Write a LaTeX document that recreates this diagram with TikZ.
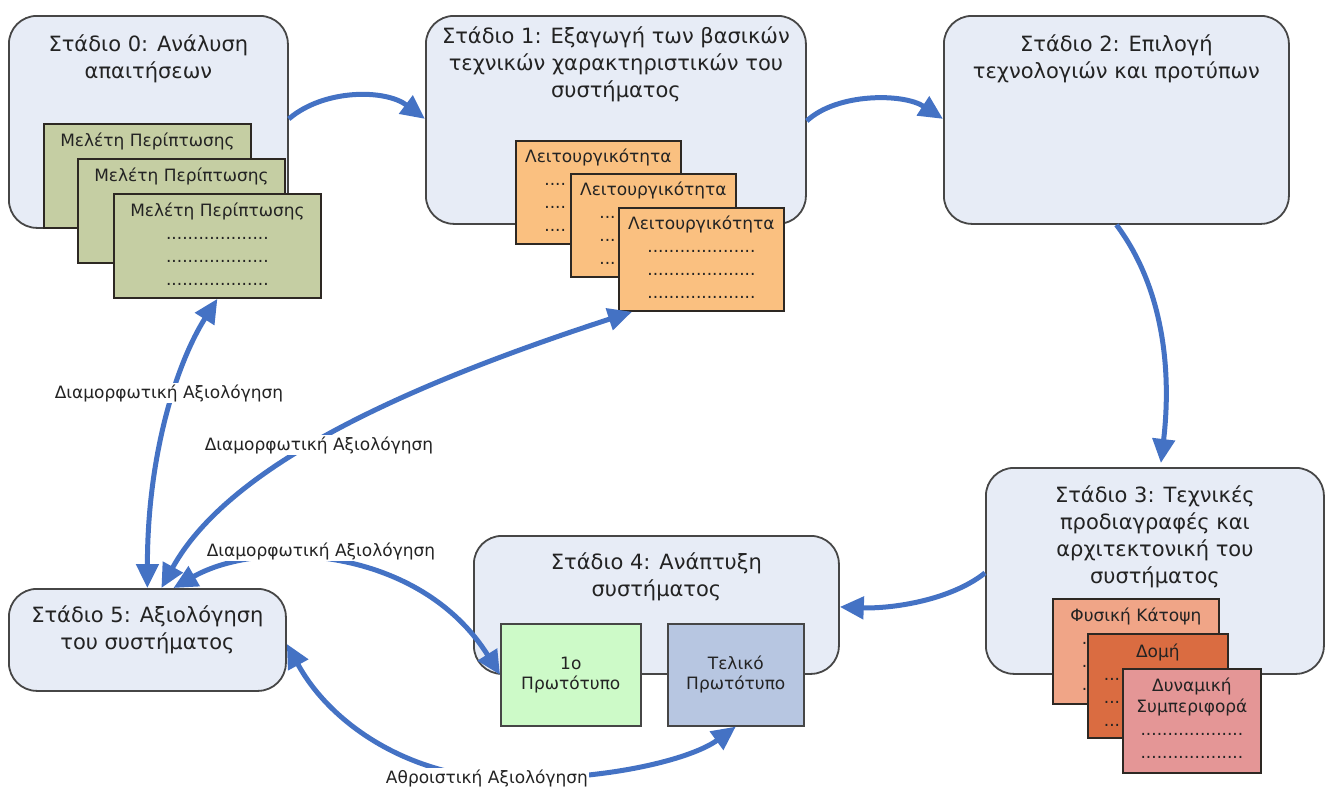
\documentclass[tikz,border=0pt]{standalone}
\usepackage{fontspec}
\setmainfont{DejaVu Sans}
\usetikzlibrary{arrows.meta}

\definecolor{boxfill}{RGB}{231,236,246}
\definecolor{boxline}{RGB}{70,70,70}
\definecolor{cardline}{RGB}{45,40,35}
\definecolor{olivecard}{RGB}{197,206,163}
\definecolor{orangecard}{RGB}{250,192,128}
\definecolor{salmoncard}{RGB}{240,165,135}
\definecolor{rustcard}{RGB}{218,108,65}
\definecolor{pinkcard}{RGB}{228,150,150}
\definecolor{greenproto}{RGB}{205,250,200}
\definecolor{blueproto}{RGB}{183,198,225}
\definecolor{flowblue}{RGB}{68,114,196}
\definecolor{inktext}{RGB}{35,35,35}

% a row of dots, left aligned in a fixed-width slot
\newcommand\rowbox[2]{\makebox[#1][l]{#2}}

\begin{document}
\begin{tikzpicture}[x=1pt,y=-1pt,
  stagebox/.style={draw=boxline, line width=1.8pt, fill=boxfill,
    rounded corners=28pt, inner sep=0pt, anchor=north west},
  stagetitle/.style={align=center, inner sep=0pt, anchor=north, text=inktext,
    font=\fontsize{21}{27}\selectfont},
  card/.style={draw=cardline, line width=1.8pt, inner sep=0pt, anchor=north west},
  cardtext/.style={align=center, inner sep=0pt, anchor=north, text=inktext,
    font=\fontsize{17}{23}\selectfont},
  proto/.style={draw=boxline, line width=1.6pt, inner sep=0pt, anchor=north west,
    align=center, text=inktext, font=\fontsize{17}{20}\selectfont},
  tip/.style={Triangle[length=24pt,width=22pt]},
  flow/.style={draw=flowblue, line width=5pt, -{Triangle[length=24pt,width=22pt]}},
  flowboth/.style={draw=flowblue, line width=5pt,
    {Triangle[length=24pt,width=22pt]}-{Triangle[length=24pt,width=22pt]}},
  evlabel/.style={fill=white, inner sep=1pt, text=inktext,
    font=\fontsize{17}{21}\selectfont}
]
\useasboundingbox (0,0) rectangle (1326,787);

% ---- Stage 0 ----
\node[stagebox, minimum width=279pt, minimum height=212pt] (s0) at (8,15) {};
\node[stagetitle] (s0t) at ([yshift=-19.5pt]s0.north) {Στάδιο 0: Ανάλυση\\απαιτήσεων};
\node[card, fill=olivecard, minimum width=207pt, minimum height=104pt] (c01) at (43,123) {};
\node[cardtext] (c01t) at ([yshift=-9.5pt]c01.north) {Μελέτη Περίπτωσης};
\node[card, fill=olivecard, minimum width=207pt, minimum height=104pt] (c02) at (77,158) {};
\node[cardtext] (c02t) at ([yshift=-9.5pt]c02.north) {Μελέτη Περίπτωσης};
\node[card, fill=olivecard, minimum width=207pt, minimum height=104pt] (c03) at (113,193) {};
\node[cardtext] (c03t) at ([yshift=-9.5pt]c03.north) {Μελέτη Περίπτωσης\\...................\\...................\\...................};

% ---- Stage 1 ----
\node[stagebox, minimum width=380pt, minimum height=208pt] (s1) at (425,15) {};
\node[stagetitle] (s1t) at ([yshift=-11.5pt]s1.north) {Στάδιο 1: Εξαγωγή των βασικών\\τεχνικών χαρακτηριστικών του\\συστήματος};
\node[card, fill=orangecard, minimum width=165pt, minimum height=103pt] (c11) at (515,140) {};
\node[cardtext] (c11t) at ([yshift=-8.5pt]c11.north) {Λειτουργικότητα\\\rowbox{108pt}{....}\\\rowbox{108pt}{....}\\\rowbox{108pt}{....}};
\node[card, fill=orangecard, minimum width=165pt, minimum height=103pt] (c12) at (570,173) {};
\node[cardtext] (c12t) at ([yshift=-8.5pt]c12.north) {Λειτουργικότητα\\\rowbox{108pt}{...}\\\rowbox{108pt}{...}\\\rowbox{108pt}{...}};
\node[card, fill=orangecard, minimum width=165pt, minimum height=103pt] (c13) at (618,207) {};
\node[cardtext] (c13t) at ([yshift=-8.5pt]c13.north) {Λειτουργικότητα\\....................\\....................\\....................};

% ---- Stage 2 ----
\node[stagebox, minimum width=345pt, minimum height=208pt] (s2) at (943,15) {};
\node[stagetitle] (s2t) at ([yshift=-19.5pt]s2.north) {Στάδιο 2: Επιλογή\\τεχνολογιών και προτύπων};

% ---- Stage 3 ----
\node[stagebox, minimum width=338pt, minimum height=206pt] (s3) at (985,467) {};
\node[stagetitle] (s3t) at ([yshift=-18.5pt]s3.north) {Στάδιο 3: Τεχνικές\\προδιαγραφές και\\αρχιτεκτονική του\\συστήματος};
\node[card, fill=salmoncard, minimum width=166pt, minimum height=105pt] (c31) at (1052,598) {};
\node[cardtext] (c31t) at ([yshift=-9.5pt]c31.north) {Φυσική Κάτοψη\\\rowbox{108pt}{.}\\\rowbox{108pt}{.}\\\rowbox{108pt}{.}};
\node[card, fill=rustcard, minimum width=140pt, minimum height=104pt] (c32) at (1087,633) {};
\node[cardtext] (c32t) at ([yshift=-10.5pt]c32.north) {Δομή\\\rowbox{108pt}{...}\\\rowbox{108pt}{...}\\\rowbox{108pt}{...}};
\node[card, fill=pinkcard, minimum width=138pt, minimum height=104pt] (c33) at (1122,668) {};
\node[cardtext] (c33t) at ([yshift=-9.5pt]c33.north) {Δυναμική\\[-2pt]Συμπεριφορά\\...................\\...................};

% ---- Stage 4 ----
\node[stagebox, minimum width=365pt, minimum height=138pt] (s4) at (473,535) {};
\node[stagetitle] (s4t) at ([yshift=-17.5pt]s4.north) {Στάδιο 4: Ανάπτυξη\\συστήματος};
\node[proto, fill=greenproto, minimum width=140pt, minimum height=102pt] (p1) at (500,623) {1ο\\Πρωτότυπο};
\node[proto, fill=blueproto, minimum width=136pt, minimum height=102pt] (p2) at (667,623) {Τελικό\\Πρωτότυπο};

% ---- Stage 5 ----
\node[stagebox, minimum width=277pt, minimum height=102pt] (s5) at (8,588) {};
\node[stagetitle] (s5t) at ([yshift=-17.5pt]s5.north) {Στάδιο 5: Αξιολόγηση\\του συστήματος};

% ---- main flow between stages ----
\draw[flow] ([yshift=3pt]s0.east) .. controls +(35,-30) and +(-40,-30) .. ([yshift=1pt]s1.west);
\draw[flow] ([yshift=-1pt]s1.east) .. controls +(30,-28) and +(-40,-26) .. ([yshift=1pt]s2.west);
\draw[flow] (s2.south) .. controls +(50,67) and +(10,-85) .. ([xshift=6pt,yshift=4pt]s3.north);
\draw[flow] ([yshift=-2pt]s3.west) .. controls +(-35,28) and +(50,2) .. ([yshift=-2pt]s4.east);

% ---- evaluation feedback ----
\coordinate (sumpt) at (487,778);
\draw[flowboth] (c03.south) .. controls +(-40,63) and +(0,-135) .. (s5.north);
\draw[flowboth] ([xshift=14pt]c13.south west) .. controls +(-212,69) and +(70,-127) .. ([xshift=14pt]s5.north);
\draw[flowboth] ([xshift=26pt]s5.north) .. controls +(88,-50) and +(-80,-128) .. (p1.west);
\draw[flowboth] ([yshift=-4pt]s5.east) .. controls +(42,77) and +(-87,-8) .. (sumpt)
  .. controls +(113,5) and +(-45,33) .. (p2.south);

\node[evlabel] (lab1) at (169,393) {Διαμορφωτική Αξιολόγηση};
\node[evlabel] (lab2) at (319,445) {Διαμορφωτική Αξιολόγηση};
\node[evlabel] (lab3) at (321,551) {Διαμορφωτική Αξιολόγηση};
\node[evlabel] (lab4) at (sumpt) {Αθροιστική Αξιολόγηση};
\end{tikzpicture}
\end{document}
